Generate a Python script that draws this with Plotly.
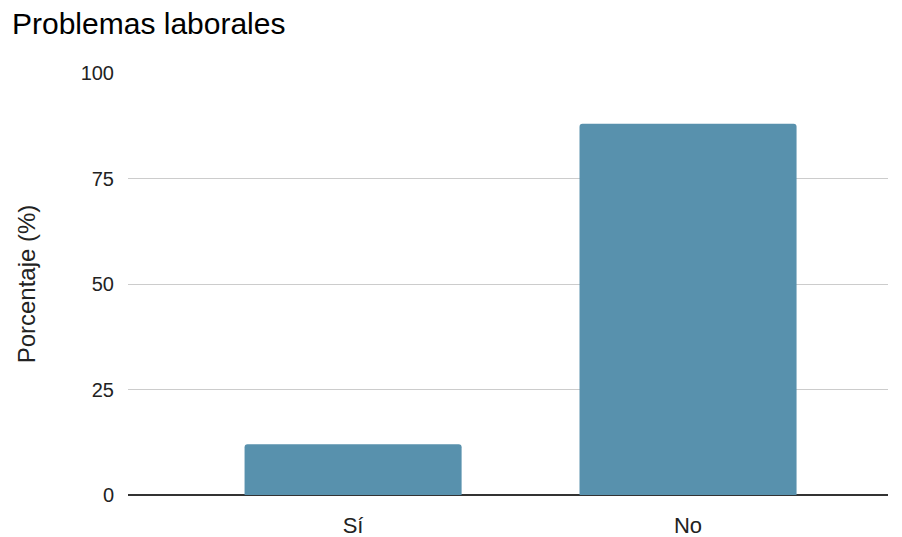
import plotly.graph_objects as go

categories = ["Sí", "No"]
values = [12, 88]
y_ticks = [0, 25, 50, 75, 100]

W, H = 894, 529  # page body has an 8px margin in the 902x537 window

fig = go.Figure(go.Bar(
    x=categories, y=values,
    marker=dict(color="#5891AD", cornerradius=3, line=dict(width=0)),
    width=0.648,
))

fig.update_layout(
    width=W, height=H,
    margin=dict(l=120, r=14, t=65, b=42, pad=0),
    paper_bgcolor="white", plot_bgcolor="white",
    font=dict(family="Liberation Sans, Arial, sans-serif", color="#222222", size=20),
    title=dict(text="Problemas laborales", xref="container", x=4 / W, xanchor="left",
               yref="container", y=1 - 15 / H, yanchor="middle",
               font=dict(size=30, color="#000000")),
    showlegend=False,
)
fig.update_xaxes(range=[-0.672, 1.597], showgrid=False, ticks="", showline=False,
                 automargin=False, ticklabelstandoff=15,
                 tickfont=dict(size=22, color="#222222"))
fig.update_yaxes(range=[0, 100], tickvals=y_ticks, gridcolor="#cccccc", gridwidth=1,
                 zeroline=True, zerolinecolor="#333333", zerolinewidth=1.5,
                 automargin=False,
                 title=dict(text="Porcentaje (%)", font=dict(size=24, color="#222222"), standoff=38),
                 ticks="", ticklabelstandoff=13, tickfont=dict(size=20, color="#222222"))

fig.write_html("out.html")
